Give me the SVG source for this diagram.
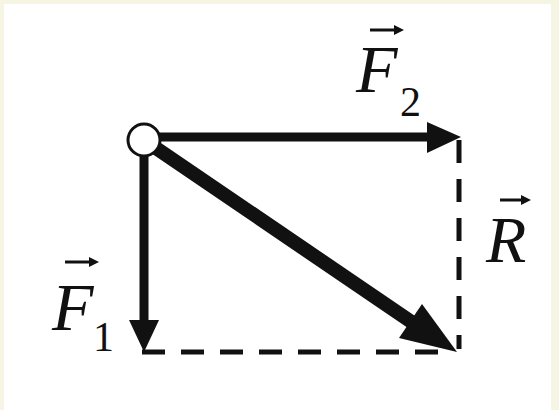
<svg xmlns="http://www.w3.org/2000/svg" width="559" height="410" viewBox="0 0 559 410">
  <defs>
    <style>
      .lbl { font-family: "Liberation Serif", "Times New Roman", serif; font-style: italic; fill: #111; }
      .sub { font-family: "Liberation Serif", "Times New Roman", serif; fill: #111; }
      .vec { stroke: #111; stroke-width: 3; fill: none; }
      .head { fill: #111; }
      .shaft { stroke: #111; fill: none; }
      .dash { stroke: #111; stroke-width: 5; stroke-dasharray: 23 16; fill: none; }
    </style>
  </defs>
  <rect x="0" y="0" width="559" height="410" fill="#f6f4e2"/>
  <rect x="4" y="4" width="547" height="406" fill="#ffffff"/>

  <g id="connectors">
    <line class="dash" x1="459" y1="140" x2="459" y2="349"/>
    <line class="dash" x1="142" y1="352" x2="440" y2="352"/>
    <line class="shaft" stroke-width="9" x1="156" y1="137" x2="430" y2="137"/>
    <polygon class="head" points="427,122 461,137 427,153"/>
    <line class="shaft" stroke-width="9" x1="144" y1="150" x2="144" y2="323"/>
    <polygon class="head" points="129,320 144,352 159,320"/>
    <line class="shaft" stroke-width="14" x1="150" y1="144" x2="413" y2="323"/>
    <polygon class="head" points="399,338 422,304 457,352"/>
  </g>

  <g id="point">
    <circle cx="144" cy="140" r="16" fill="#ffffff" stroke="#111" stroke-width="3"/>
  </g>

  <g id="label-F2">
    <line class="vec" x1="370" y1="30" x2="396" y2="30"/>
    <polygon class="head" points="394,25 404,30 394,35"/>
    <text class="lbl" x="356" y="92" font-size="68">F</text>
    <text class="sub" x="400" y="116" font-size="42">2</text>
  </g>

  <g id="label-F1">
    <line class="vec" x1="65" y1="262" x2="91" y2="262"/>
    <polygon class="head" points="89,257 99,262 89,267"/>
    <text class="lbl" x="52" y="330" font-size="68">F</text>
    <text class="sub" x="93" y="351" font-size="42">1</text>
  </g>

  <g id="label-R">
    <line class="vec" x1="500" y1="200" x2="523" y2="200"/>
    <polygon class="head" points="521,195 531,200 521,205"/>
    <text class="lbl" x="486" y="262" font-size="66">R</text>
  </g>
</svg>
